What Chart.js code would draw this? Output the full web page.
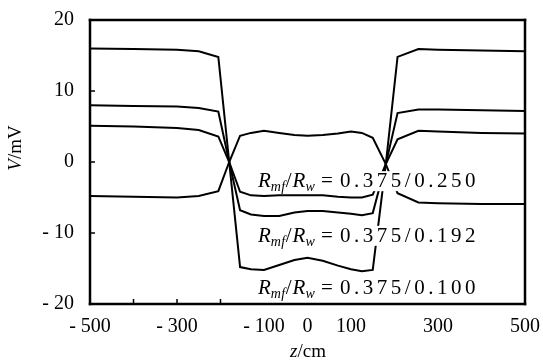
<!DOCTYPE html>
<html><head><meta charset="utf-8">
<script src="https://cdn.jsdelivr.net/npm/chart.js@4.4.0/dist/chart.umd.min.js"></script>
<style>html,body{margin:0;padding:0;background:#fff;}canvas{display:block;}</style>
</head><body>
<canvas id="c" width="543" height="364"></canvas>
<script>
// z positions (cm)
const zValues = [-500,-400,-300,-250,-205,-180,-155,-130,-100,-65,-30,0,35,70,100,125,150,180,207,255,300,400,500];
// V (mV) for Rmf/Rw = 0.375/0.100
const seriesR100 = [16.0,15.9,15.8,15.6,14.8,0.0,-14.8,-15.1,-15.2,-14.5,-13.8,-13.5,-13.9,-14.6,-15.1,-15.4,-15.2,-0.3,14.8,15.9,15.8,15.7,15.6];
// V (mV) for Rmf/Rw = 0.375/0.192
const seriesR192 = [8.0,7.9,7.8,7.6,7.1,0.0,-6.8,-7.4,-7.6,-7.6,-7.1,-6.9,-6.9,-7.1,-7.3,-7.5,-7.2,-0.3,6.9,7.4,7.4,7.3,7.2];
// V (mV) for Rmf/Rw = 0.375/0.250
const seriesR250 = [5.1,5.0,4.8,4.5,3.6,0.0,-4.2,-4.7,-4.8,-4.7,-4.7,-4.7,-4.7,-4.9,-5.0,-5.0,-4.6,-0.3,3.2,4.4,4.3,4.1,4.0];
// fourth (inverted) curve
const seriesInverse = [-4.8,-4.9,-5.0,-4.8,-4.1,0.0,3.7,4.1,4.4,4.1,3.8,3.7,3.8,4.0,4.3,4.1,3.4,-0.3,-4.4,-5.7,-5.8,-5.9,-5.9];

const xTickLabels = [-500,-300,-100,0,100,300,500];
const yTickLabels = [20,10,0,-10,-20];
const xInnerTicks = [-400,-300,-200];
const yInnerTicks = [10,0,-10];
const ratioLabels = ['0.375/0.250','0.375/0.192','0.375/0.100'];

const toPts = arr => arr.map((v,i)=>({x:zValues[i], y:v}));
const fmt = v => v < 0 ? '- ' + (-v) : String(v);
const lineStyle = {borderColor:'#000', borderWidth:2, pointRadius:0, tension:0, fill:false};

const overlay = {
  id:'overlay',
  afterDraw(chart){
    const ctx = chart.ctx, xs = chart.scales.x, ys = chart.scales.y;
    ctx.save();
    // annotation labels (white mask behind, as in the original figure)
    const anchors = [[-114,-2.7],[-114,-10.4],[-114,-17.8]];
    ratioLabels.forEach((txt,i)=>{
      const x0 = xs.getPixelForValue(anchors[i][0]);
      const yc = ys.getPixelForValue(anchors[i][1]);
      const base = yc + 6;
      const parts = [
        {t:'R', f:'italic 21px "Liberation Serif"', dy:0, sp:0},
        {t:'mf', f:'italic 14px "Liberation Serif"', dy:4, sp:0.5},
        {t:'/', f:'21px "Liberation Serif"', dy:0, sp:1},
        {t:'R', f:'italic 21px "Liberation Serif"', dy:0, sp:0},
        {t:'w', f:'italic 14px "Liberation Serif"', dy:4, sp:0},
        {t:' = ', f:'21px "Liberation Serif"', dy:0, sp:1},
        {t:txt, f:'21px "Liberation Serif"', dy:0, sp:3.5}
      ];
      let w = 0;
      parts.forEach(p=>{ctx.font=p.f; for(const ch of p.t){w += ctx.measureText(ch).width + p.sp;}});
      ctx.fillStyle = '#fff';
      ctx.fillRect(x0-2, yc-10, w+4, 20);
      ctx.fillStyle = '#000';
      ctx.textBaseline = 'alphabetic';
      ctx.textAlign = 'left';
      let x = x0;
      parts.forEach(p=>{ctx.font=p.f; for(const ch of p.t){ctx.fillText(ch, x, base+p.dy); x += ctx.measureText(ch).width + p.sp;}});
    });
    // frame
    const L = xs.getPixelForValue(-500), R = xs.getPixelForValue(500);
    const T = ys.getPixelForValue(20), B = ys.getPixelForValue(-20);
    const h = 1.25;
    ctx.fillStyle = '#000';
    ctx.fillRect(L-h, T-h, R-L+2*h, 2*h);
    ctx.fillRect(L-h, B-h, R-L+2*h, 2*h);
    ctx.fillRect(L-h, T-h, 2*h, B-T+2*h);
    ctx.fillRect(R-h, T-h, 2*h, B-T+2*h);
    // inner ticks
    ctx.strokeStyle = '#000';
    ctx.lineWidth = 1.5;
    xInnerTicks.forEach(v=>{const px = xs.getPixelForValue(v); ctx.beginPath(); ctx.moveTo(px, B); ctx.lineTo(px, B-5); ctx.stroke();});
    yInnerTicks.forEach(v=>{const py = ys.getPixelForValue(v); ctx.beginPath(); ctx.moveTo(L, py); ctx.lineTo(L+5, py); ctx.stroke();});
    // axis titles
    ctx.fillStyle = '#000';
    ctx.textBaseline = 'middle';
    const drawMixed = (segs, cx, cy, rot) => {
      ctx.save();
      ctx.translate(cx, cy);
      if (rot) ctx.rotate(-Math.PI/2);
      let w = 0; segs.forEach(s=>{ctx.font=s.f; w += ctx.measureText(s.t).width;});
      let x = -w/2;
      ctx.textAlign='left';
      segs.forEach(s=>{ctx.font=s.f; ctx.fillText(s.t, x, 0); x += ctx.measureText(s.t).width;});
      ctx.restore();
    };
    drawMixed([{t:'z',f:'italic 19px "Liberation Serif"'},{t:'/cm',f:'19px "Liberation Serif"'}], 308, 352, false);
    drawMixed([{t:'V',f:'italic 19px "Liberation Serif"'},{t:'/mV',f:'19px "Liberation Serif"'}], 16, 148, true);
    ctx.restore();
  }
};

new Chart(document.getElementById('c'), {
  type:'line',
  data:{datasets:[
    Object.assign({label:'0.375/0.100', data:toPts(seriesR100)}, lineStyle),
    Object.assign({label:'0.375/0.192', data:toPts(seriesR192)}, lineStyle),
    Object.assign({label:'0.375/0.250', data:toPts(seriesR250)}, lineStyle),
    Object.assign({label:'inverse', data:toPts(seriesInverse)}, lineStyle)
  ]},
  options:{
    responsive:false, devicePixelRatio:1, animation:false,
    layout:{padding:{left:0,right:15,top:18,bottom:0}},
    plugins:{legend:{display:false}, tooltip:{enabled:false}},
    scales:{
      x:{type:'linear', min:-500, max:500,
        grid:{display:false}, border:{display:false},
        afterFit(s){ s.height = 60; },
        afterBuildTicks(s){ s.ticks = xTickLabels.map(v=>({value:v})); },
        ticks:{color:'#000', padding:3, maxRotation:0, autoSkip:false,
          font:{family:'"Liberation Serif"', size:20},
          callback:v=>fmt(v)}
      },
      y:{type:'linear', min:-20, max:20,
        grid:{display:false}, border:{display:false},
        afterFit(s){ s.width = 90; },
        afterBuildTicks(s){ s.ticks = yTickLabels.map(v=>({value:v})); },
        ticks:{color:'#000', padding:8,
          font:{family:'"Liberation Serif"', size:20},
          callback:v=>fmt(v)}
      }
    }
  },
  plugins:[overlay]
});
</script>
</body></html>
